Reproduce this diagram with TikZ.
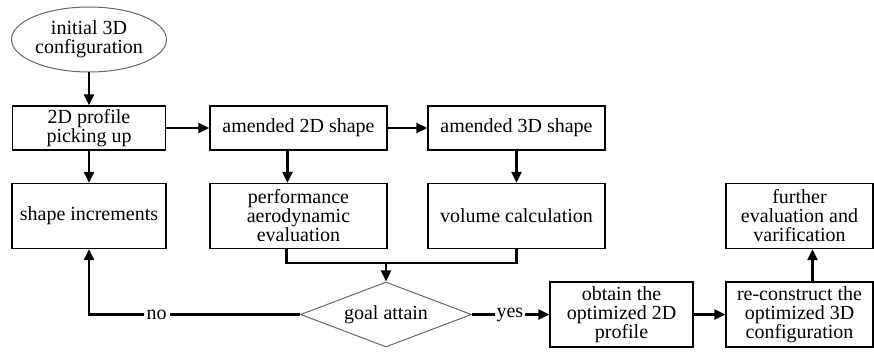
\documentclass[tikz,border=0pt]{standalone}
\usepackage{fontspec}
\setmainfont{Liberation Serif}
\usepackage{tikz}
\usetikzlibrary{shapes.geometric,positioning,calc,arrows.meta}

\begin{document}
\begin{tikzpicture}[x=1pt, y=-1pt,
    every node/.style={font=\fontsize{20}{19}\selectfont, align=center, inner sep=0pt},
    box/.style={draw, line width=1.3pt, minimum width=#1, minimum height=65pt},
    wbox/.style={draw, line width=1.3pt, minimum width=177pt, minimum height=44pt},
    start/.style={draw=black!60, ellipse, line width=1pt, minimum width=155pt, minimum height=65pt},
    test/.style={draw=black!60, diamond, line width=1pt, shape aspect=2.6, minimum width=171pt, minimum height=65pt},
    arr/.style={line width=2.2pt, -{Triangle[length=11pt,width=10pt]}},
    conn/.style={line width=2.2pt}]
    \useasboundingbox (0,0) rectangle (874,352);

    % Start
    \node [start] (init) at (89,39.5) {initial 3D\\configuration};

    % First row
    \node [wbox, minimum width=153pt] (prof) at (89,128) {2D profile\\picking up};
    \node [wbox] (am2) at (298.5,128) {amended 2D shape};
    \node [wbox] (am3) at (516.5,128) {amended 3D shape};

    % Second row
    \node [box=154pt] (inc) at (89,216) {shape increments};
    \node [box=177pt] (perf) at (298.5,216) {performance\\aerodynamic\\evaluation};
    \node [box=177pt] (vol) at (516.5,216) {volume calculation};
    \node [box=147pt] (further) at (799.5,216) {further\\evaluation and\\varification};

    % Decision and last row
    \node [test] (goal) at (386,314.5) {goal attain};
    \node [box=143pt] (obtain) at (621.5,314.5) {obtain the\\optimized 2D\\profile};
    \node [box=147pt] (recon) at (799.5,314.5) {re-construct the\\optimized 3D\\configuration};

    % Arrows
    \draw [arr] (init) -- (prof);
    \draw [arr] (prof) -- (am2);
    \draw [arr] (am2) -- (am3);
    \draw [arr] (prof) -- (inc);
    \draw [arr] ([xshift=-11pt]am2.south) -- ([xshift=-11pt]perf.north);
    \draw [arr] (am3) -- (vol);

    % Merge into the test
    \coordinate (mrg) at (goal.north |- 0,263);
    \draw [conn] ([xshift=-12pt]perf.south) |- (mrg) -| (vol.south);
    \draw [arr] (mrg) -- (goal.north);

    % no / yes
    \coordinate (back) at (inc.south |- goal.west);
    \draw [arr] (goal.west) -- node [pos=0.68, fill=white, inner xsep=3pt] {no} (back) -- (inc.south);
    \draw [arr] (goal.east) -- node [pos=0.49, fill=white, inner xsep=2pt] {yes} (obtain.west);
    \draw [arr] (obtain) -- (recon);
    \draw [arr] ([xshift=13pt]recon.north) -- ([xshift=13pt]further.south);
\end{tikzpicture}
\end{document}
